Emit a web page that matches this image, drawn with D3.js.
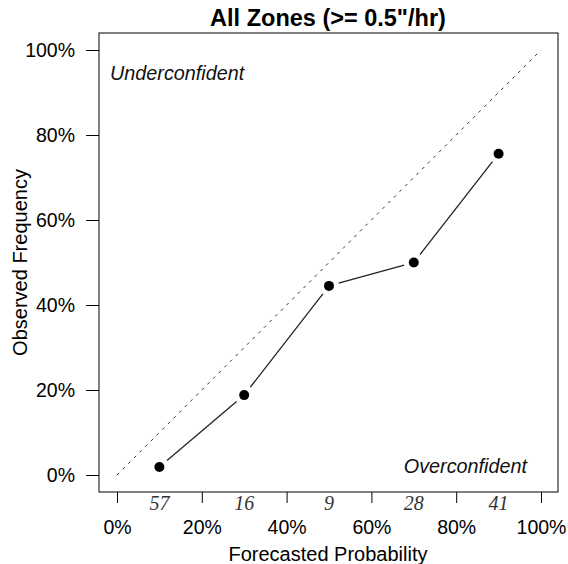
<!DOCTYPE html>
<html><head><meta charset="utf-8">
<script src="https://cdn.jsdelivr.net/npm/d3@7"></script>
<style>body{margin:0;background:#fff}svg{display:block}</style>
</head><body>
<script>
const forecast = [0.1, 0.3, 0.5, 0.7, 0.9];
const observed = [0.019, 0.188, 0.445, 0.50, 0.756];
const counts = ["57", "16", "9", "28", "41"];
const tickValues = [0, 0.2, 0.4, 0.6, 0.8, 1.0];
const title = "All Zones (>= 0.5\"/hr)";

const W = 568, H = 564;
const svg = d3.select("body").append("svg").attr("width", W).attr("height", H);
const x = d3.scaleLinear().domain([0, 1]).range([117, 541]);
const y = d3.scaleLinear().domain([0, 1]).range([475, 50]);
const x0 = 99, x1 = 558, y0 = 33, y1 = 492;
const font = "Liberation Sans, Arial, sans-serif";
const pct = d => Math.round(d * 100) + "%";

// box
svg.append("rect").attr("x", x0).attr("y", y0).attr("width", x1 - x0).attr("height", y1 - y0)
  .attr("fill", "none").attr("stroke", "#000").attr("stroke-width", 1);

// y axis
const yAxis = d3.axisLeft(y).tickValues(tickValues).tickFormat(pct).tickSize(13).tickPadding(11);
const gy = svg.append("g").attr("transform", `translate(${x0},0)`).call(yAxis);
gy.select(".domain").remove();
gy.selectAll("text").attr("font-family", font).attr("font-size", 19.5).attr("fill", "#000");
gy.selectAll("line").attr("stroke", "#000");

// x axis (ticks only at bottom)
const xAxis = d3.axisBottom(x).tickValues(tickValues).tickFormat(pct).tickSize(11).tickPadding(17);
const gx = svg.append("g").attr("transform", `translate(0,${y1})`).call(xAxis);
gx.select(".domain").remove();
gx.selectAll("text").attr("font-family", font).attr("font-size", 19.5).attr("fill", "#000");
gx.selectAll("line").attr("stroke", "#000");

// counts
svg.append("g").selectAll("text").data(forecast).join("text")
  .attr("x", d => x(d)).attr("y", 510).attr("text-anchor", "middle")
  .attr("font-family", "Liberation Serif, Times New Roman, serif").attr("font-style", "italic")
  .attr("font-size", 20).attr("fill", "#333").text((d, i) => counts[i]);

// diagonal
svg.append("line").attr("x1", x(0)).attr("y1", y(0)).attr("x2", x(1)).attr("y2", y(1))
  .attr("stroke", "#333").attr("stroke-width", 1).attr("stroke-dasharray", "3,5");

// segments with gaps
const pts = forecast.map((f, i) => [x(f), y(observed[i])]);
const gap = 10;
const segs = [];
for (let i = 0; i < pts.length - 1; i++) {
  const [ax, ay] = pts[i], [bx, by] = pts[i + 1];
  const L = Math.hypot(bx - ax, by - ay), ux = (bx - ax) / L, uy = (by - ay) / L;
  segs.push([ax + ux * gap, ay + uy * gap, bx - ux * gap, by - uy * gap]);
}
svg.append("g").selectAll("line").data(segs).join("line")
  .attr("x1", d => d[0]).attr("y1", d => d[1]).attr("x2", d => d[2]).attr("y2", d => d[3])
  .attr("stroke", "#222").attr("stroke-width", 1.3);

svg.append("g").selectAll("circle").data(forecast).join("circle")
  .attr("cx", d => x(d)).attr("cy", (d, i) => y(observed[i])).attr("r", 5).attr("fill", "#000");

// annotations
svg.append("text").attr("x", 110).attr("y", 80).attr("font-family", font).attr("font-style", "italic")
  .attr("font-size", 19.8).attr("fill", "#111").text("Underconfident");
svg.append("text").attr("x", 527).attr("y", 473).attr("text-anchor", "end").attr("font-family", font)
  .attr("font-style", "italic").attr("font-size", 19.8).attr("fill", "#111").text("Overconfident");

// title
svg.append("text").attr("x", 328).attr("y", 26).attr("text-anchor", "middle").attr("font-family", font)
  .attr("font-weight", "bold").attr("font-size", 23.5).attr("fill", "#000").text(title);

// axis titles
svg.append("text").attr("x", 328).attr("y", 561).attr("text-anchor", "middle").attr("font-family", font)
  .attr("font-size", 20).attr("fill", "#000").text("Forecasted Probability");
svg.append("text").attr("transform", `translate(27,${(y0 + y1) / 2}) rotate(-90)`).attr("text-anchor", "middle")
  .attr("font-family", font).attr("font-size", 20).attr("fill", "#000").text("Observed Frequency");
</script>
</body></html>
